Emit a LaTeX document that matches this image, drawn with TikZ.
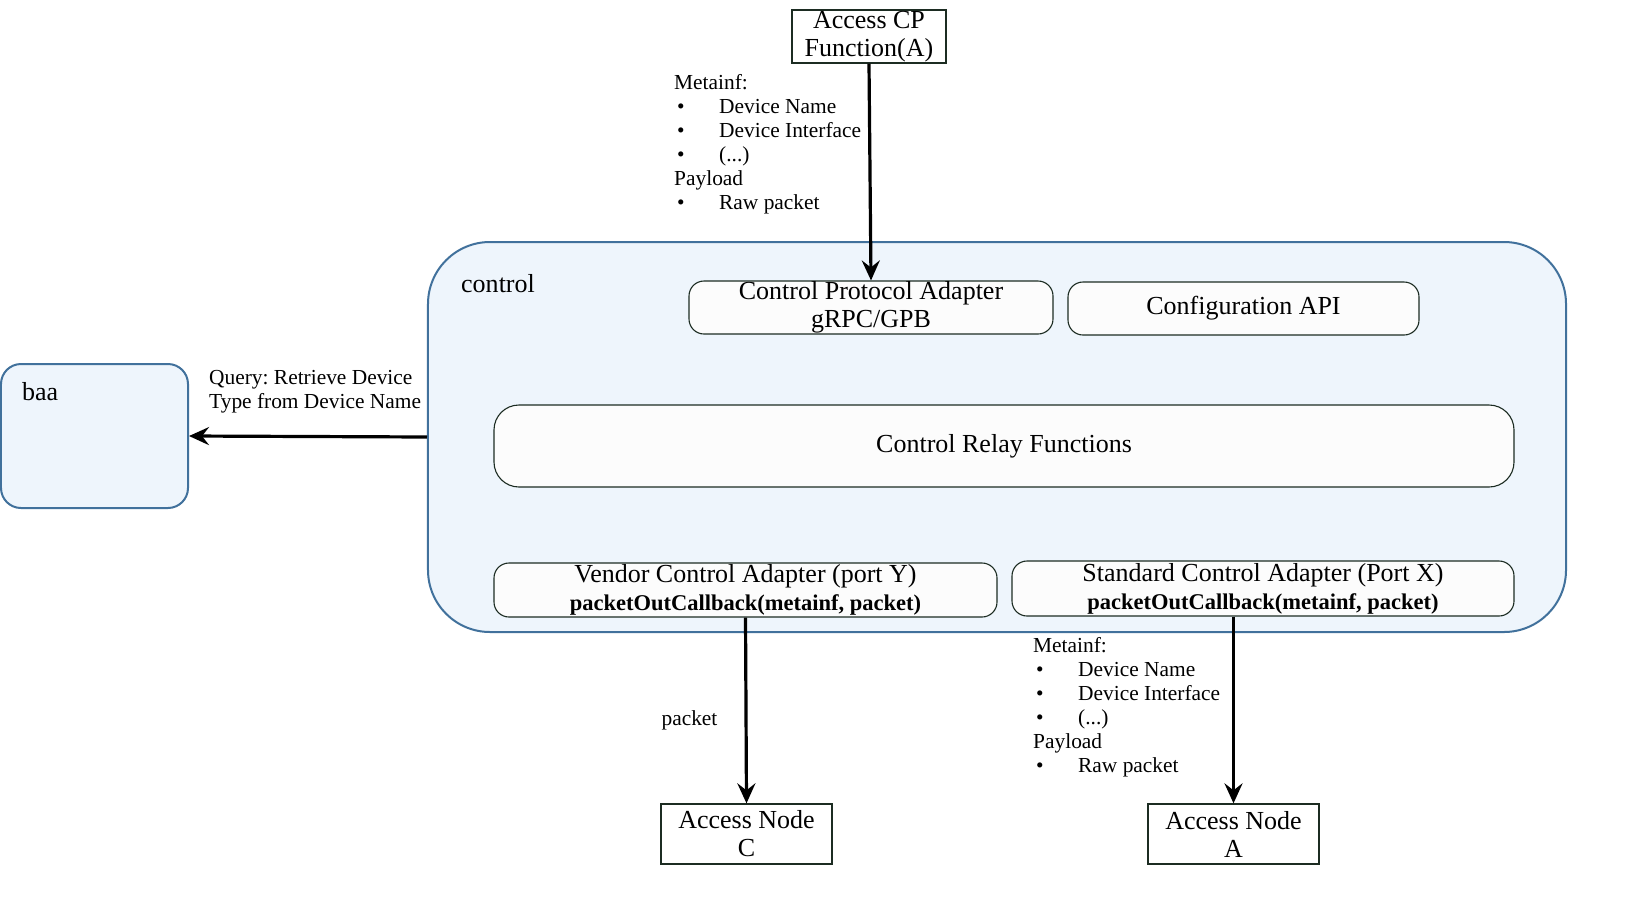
\documentclass[tikz,border=0pt]{standalone}
\usepackage{fontspec}
\setmainfont{Liberation Serif}
\frenchspacing
\usetikzlibrary{arrows.meta}
\definecolor{framefill}{RGB}{238,245,252}
\definecolor{frameline}{RGB}{65,113,156}
\definecolor{boxline}{RGB}{28,44,34}
\definecolor{boxfill}{RGB}{252,252,252}
\tikzset{
	bigtxt/.style={font=\fontsize{26bp}{28bp}\selectfont},
	smalltxt/.style={font=\fontsize{21.4bp}{24bp}\selectfont},
	plainbox/.style={draw=boxline, fill=white, line width=1.3bp, bigtxt, align=center, inner sep=0pt},
	subbox/.style={draw=boxline, fill=boxfill, line width=1.1bp, rounded corners=15bp, bigtxt, align=center, inner sep=0pt},
	bluebox/.style={draw=frameline, fill=framefill, line width=2bp, inner sep=0pt},
	listtxt/.style={smalltxt, align=left, anchor=north west, inner sep=0pt},
	flow/.style={-{Stealth[length=20bp, width=18bp, inset=7bp]}, line width=3.2bp},
}
\newcommand{\itm}[1]{\hspace*{3bp}\makebox[42bp][l]{\textbullet}#1}
\newcommand{\cbk}{{\fontsize{22.5bp}{26bp}\selectfont\bfseries packetOutCallback(metainf, packet)}}

\begin{document}
\begin{tikzpicture}[x=1bp, y=-1bp]
			%%%%% START %%%%%
			\useasboundingbox (0, 0) rectangle (1638, 917);
			
			% outer frames
			\node[bluebox, minimum width=1138bp, minimum height=390bp, rounded corners=62bp] (ctrl) at (997, 437) {};
			\node[bigtxt, anchor=west, inner sep=0pt] (ctrllbl) at (461, 284) {control};
			\node[bluebox, minimum width=187bp, minimum height=144bp, rounded corners=20bp] (baa) at (94.5, 436) {};
			\node[bigtxt, anchor=west, inner sep=0pt] (baalbl) at (22, 392) {baa};
			
			% boxes inside control
			\node[subbox, minimum width=364bp, minimum height=53bp] (cpa) at (871, 307.5) {Control Protocol Adapter\\gRPC/GPB};
			\node[subbox, minimum width=351bp, minimum height=53bp] (cfg) at (1243.5, 308.5) {Configuration API};
			\node[subbox, minimum width=1020bp, minimum height=82bp, rounded corners=25bp] (relay) at (1004, 446) {Control Relay Functions};
			\node[subbox, minimum width=503bp, minimum height=54bp] (vca) at (745.5, 590) {Vendor Control Adapter (port Y)\\\cbk};
			\node[subbox, minimum width=502bp, minimum height=55bp] (sca) at (1263, 588.5) {Standard Control Adapter (Port X)\\\cbk};
			
			% outside boxes
			\node[plainbox, minimum width=154bp, minimum height=53bp] (acp) at (869, 36.5) {Access CP\\Function(A)};
			\node[plainbox, minimum width=171bp, minimum height=60bp] (anc) at (746.5, 834) {Access Node\\C};
			\node[plainbox, minimum width=171bp, minimum height=60bp] (ana) at (1233.5, 834) {Access Node\\A};
			
			% arrows
			\draw[flow] (acp.south) -- (cpa.north);
			\draw[flow] (ctrl.west) -- (baa.east);
			\draw[flow] (vca.south) -- (anc.north);
			\draw[flow] (sca.south -| ana.north) -- (ana.north);
			
			% labels
			\node[listtxt] (toplist) at (674, 74) {Metainf:\\\itm{Device Name}\\\itm{Device Interface}\\\itm{(...)}\\Payload\\\itm{Raw packet}};
			\node[listtxt] (query) at (209, 370.5) {Query: Retrieve Device\\Type from Device Name};
			\node[smalltxt, inner sep=0pt] (pktlbl) at (689.5, 720) {packet};
			\node[listtxt] (botlist) at (1033, 637) {Metainf:\\\itm{Device Name}\\\itm{Device Interface}\\\itm{(...)}\\Payload\\\itm{Raw packet}};
			
			%%%%% END %%%%%
\end{tikzpicture}
\end{document}
